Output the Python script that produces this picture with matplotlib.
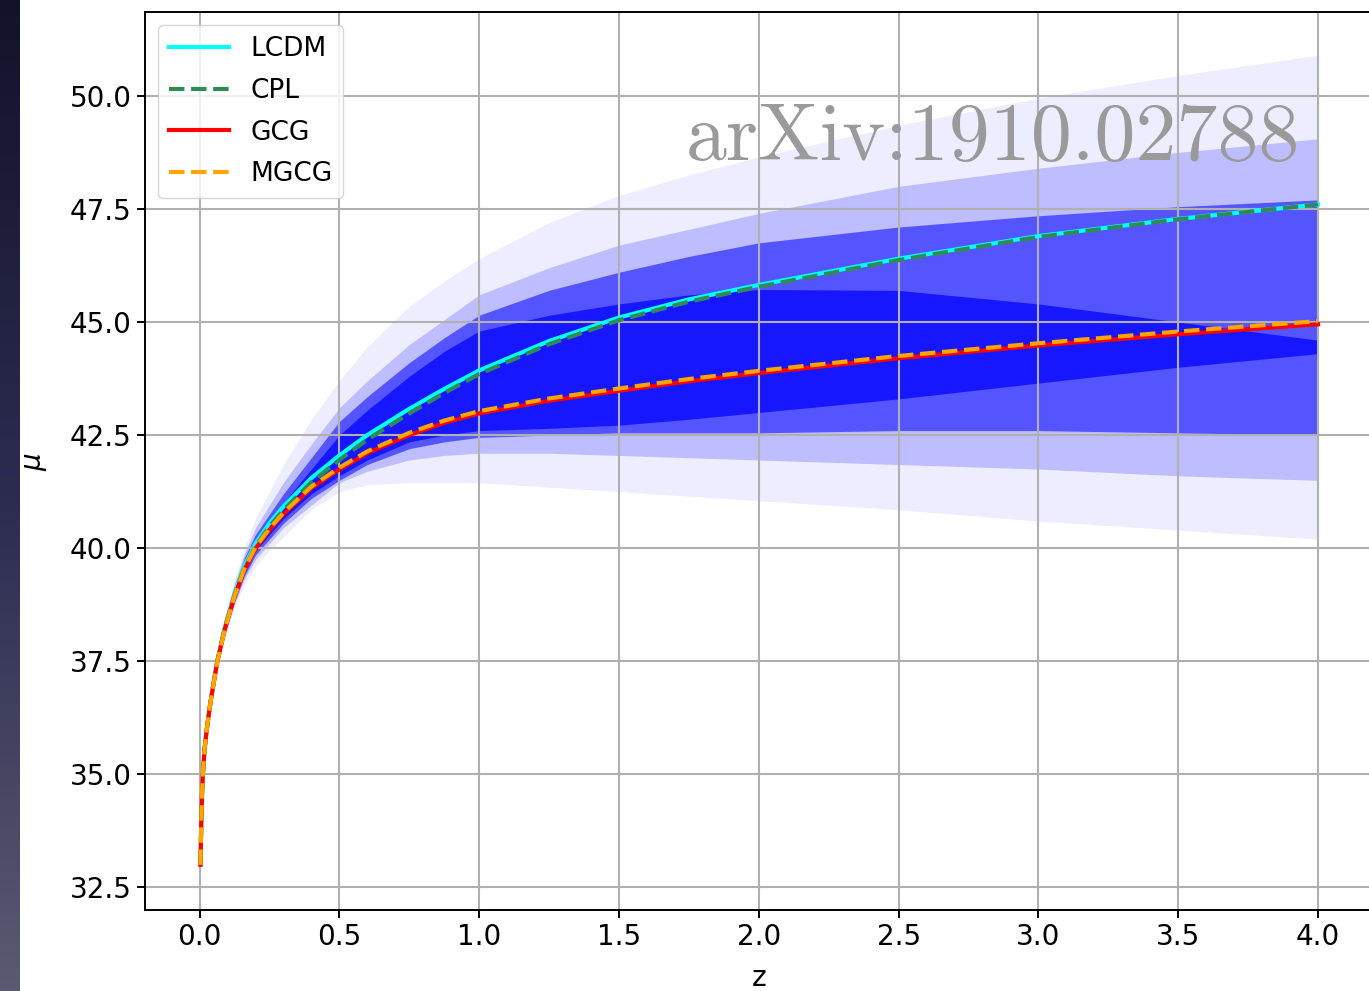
import numpy as np
import matplotlib
matplotlib.use('Agg')
import matplotlib.pyplot as plt

# redshift nodes
z = [0.0035, 0.006, 0.009, 0.012, 0.018, 0.027, 0.036, 0.044, 0.063, 0.09, 0.125, 0.16,
     0.2, 0.25, 0.3, 0.4, 0.5, 0.6, 0.75, 0.875, 1.0, 1.25, 1.5, 1.75, 2.0, 2.5, 3.0, 3.5, 4.0]

mu_lcdm = [33.0, 33.83, 34.57, 35.0, 35.55, 36.05, 36.47, 36.79, 37.5, 38.25, 39.0, 39.6,
           40.1, 40.55, 40.92, 41.55, 42.05, 42.5, 43.08, 43.52, 43.93, 44.58, 45.1, 45.5, 45.82,
           46.4, 46.9, 47.28, 47.6]
mu_cpl = [33.0, 33.83, 34.57, 35.0, 35.55, 36.04, 36.46, 36.78, 37.48, 38.22, 38.96, 39.55,
          40.04, 40.48, 40.84, 41.46, 41.95, 42.4, 42.98, 43.43, 43.85, 44.51, 45.04, 45.45, 45.78,
          46.37, 46.88, 47.27, 47.6]
mu_gcg = [33.0, 33.83, 34.57, 35.0, 35.55, 36.04, 36.45, 36.77, 37.47, 38.2, 38.93, 39.52,
          39.99, 40.4, 40.75, 41.33, 41.74, 42.1, 42.5, 42.77, 42.98, 43.26, 43.48, 43.69, 43.87,
          44.2, 44.48, 44.73, 44.95]
mu_mgcg = [33.0, 33.83, 34.57, 35.0, 35.55, 36.04, 36.45, 36.77, 37.47, 38.2, 38.94, 39.54,
           40.02, 40.43, 40.78, 41.36, 41.78, 42.14, 42.55, 42.82, 43.03, 43.31, 43.53, 43.74, 43.92,
           44.25, 44.53, 44.79, 45.02]

# spread of the sampled curves, outer -> inner
outer_hi = [33.02, 33.86, 34.61, 35.05, 35.62, 36.14, 36.58, 36.92, 37.67, 38.48, 39.3, 40.0,
            40.65, 41.25, 41.85, 42.85, 43.7, 44.45, 45.35, 45.9, 46.4, 47.2, 47.8, 48.25, 48.65,
            49.35, 49.95, 50.45, 50.9]
outer_lo = [32.98, 33.8, 34.53, 34.95, 35.49, 35.96, 36.35, 36.65, 37.32, 38.0, 38.67, 39.19,
            39.6, 39.95, 40.25, 40.85, 41.25, 41.4, 41.45, 41.45, 41.45, 41.35, 41.25, 41.15, 41.05,
            40.85, 40.6, 40.4, 40.2]
light_hi = [33.01, 33.85, 34.6, 35.04, 35.6, 36.11, 36.55, 36.88, 37.62, 38.41, 39.21, 39.87,
            40.45, 40.95, 41.45, 42.3, 43.1, 43.7, 44.5, 45.05, 45.6, 46.2, 46.7, 47.05, 47.4,
            48.0, 48.4, 48.75, 49.05]
light_lo = [32.99, 33.81, 34.54, 34.97, 35.51, 35.99, 36.38, 36.69, 37.37, 38.07, 38.76, 39.31,
            39.75, 40.1, 40.45, 40.95, 41.45, 41.7, 41.95, 42.05, 42.1, 42.1, 42.05, 42.0, 41.95,
            41.85, 41.75, 41.6, 41.5]
mid_hi = [33.01, 33.84, 34.59, 35.03, 35.59, 36.1, 36.53, 36.86, 37.59, 38.37, 39.15, 39.78,
          40.3, 40.75, 41.2, 42.0, 42.8, 43.35, 44.1, 44.65, 45.15, 45.7, 46.1, 46.45, 46.75,
          47.1, 47.35, 47.55, 47.7]
mid_lo = [33.0, 33.82, 34.55, 34.98, 35.52, 36.0, 36.4, 36.71, 37.4, 38.11, 38.81, 39.38,
          39.85, 40.2, 40.55, 41.1, 41.5, 41.85, 42.2, 42.35, 42.45, 42.5, 42.55, 42.55, 42.55,
          42.6, 42.6, 42.55, 42.5]
core_hi = [33.0, 33.84, 34.58, 35.02, 35.58, 36.08, 36.51, 36.84, 37.56, 38.32, 39.08, 39.7,
           40.18, 40.6, 41.0, 41.75, 42.5, 43.05, 43.8, 44.35, 44.8, 45.15, 45.4, 45.6, 45.72,
           45.7, 45.4, 45.0, 44.6]
core_lo = [33.0, 33.83, 34.56, 34.99, 35.53, 36.02, 36.42, 36.74, 37.43, 38.15, 38.87, 39.45,
           39.93, 40.3, 40.65, 41.2, 41.6, 41.95, 42.35, 42.5, 42.6, 42.65, 42.72, 42.85, 43.0,
           43.3, 43.65, 44.0, 44.3]

labels = ['LCDM', 'CPL', 'GCG', 'MGCG']
xticks = [0.0, 0.5, 1.0, 1.5, 2.0, 2.5, 3.0, 3.5, 4.0]
yticks = [32.5, 35.0, 37.5, 40.0, 42.5, 45.0, 47.5, 50.0]

fig = plt.figure(figsize=(13.69, 9.91), dpi=100)

# dark strip on the left edge of the screenshot
strip = fig.add_axes([0, 0, 20 / 1369, 1])
grad = np.linspace(0, 1, 256).reshape(-1, 1)
strip.imshow(grad, aspect='auto', cmap=matplotlib.colors.LinearSegmentedColormap.from_list(
    'edge', ['#12122a', '#2c2c50', '#5a5a72']))
strip.axis('off')

ax = fig.add_axes([0.1059, 0.0817, 0.8977, 0.906])

layers = [(outer_lo, outer_hi, 0.07),
          (light_lo, light_hi, 0.2),
          (mid_lo, mid_hi, 0.55),
          (core_lo, core_hi, 0.72)]
for lo, hi, a in layers:
    ax.fill_between(z, lo, hi, color='blue', alpha=a, linewidth=0)

ax.plot(z, mu_lcdm, color='cyan', lw=3, label=labels[0])
ax.plot(z, mu_cpl, color='seagreen', lw=3, ls='--', label=labels[1])
ax.plot(z, mu_gcg, color='red', lw=3, label=labels[2])
ax.plot(z, mu_mgcg, color='orange', lw=3, ls='--', label=labels[3])

ax.set_xlim(-0.195, 4.2)
ax.set_ylim(32.0, 51.85)
ax.set_xticks(xticks)
ax.set_yticks(yticks)
ax.grid(True, color='#b0b0b0', lw=1.5)
ax.tick_params(labelsize=20, length=6, width=1.4)
for s in ax.spines.values():
    s.set_linewidth(1.4)

ax.set_xlabel('z', fontsize=20, labelpad=9)
ax.set_ylabel(r'$\mu$', fontsize=20)
ax.yaxis.set_label_coords(-0.078, 0.5)

ax.legend(loc='upper left', fontsize=19, handlelength=2.3, labelspacing=0.6)

fig.text(0.9496, 0.8386, 'arXiv:1910.02788', family='cmr10', fontsize=59,
         color='#9a9a9a', ha='right', va='baseline')

plt.savefig('out.png', dpi=100)
